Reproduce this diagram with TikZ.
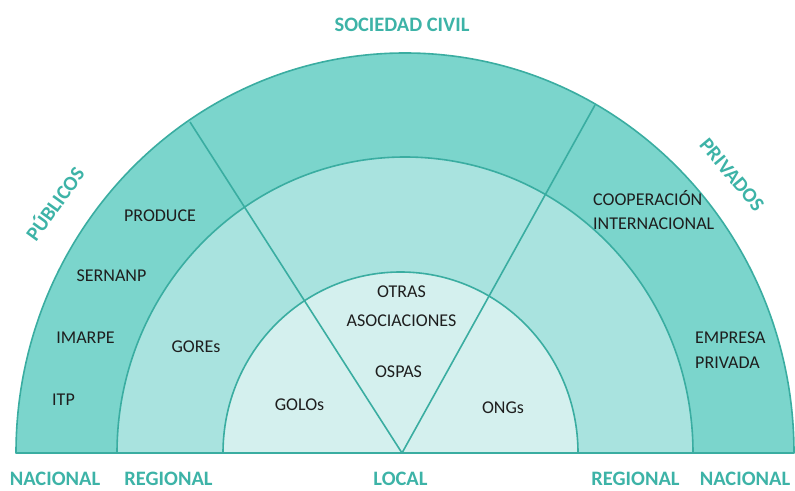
\documentclass[tikz,border=0pt]{standalone}
\usepackage{fontspec}
\setmainfont{Carlito}
\definecolor{ringA}{HTML}{7BD5CC}
\definecolor{ringB}{HTML}{A9E3DF}
\definecolor{ringC}{HTML}{D4F0EE}
\definecolor{edge}{HTML}{3AADA1}
\definecolor{cattxt}{HTML}{3DB3A7}
\definecolor{ink}{HTML}{1E1E1E}
\begin{document}
\begin{tikzpicture}[x=1pt,y=1pt,
  ring/.style={draw=edge, line width=1.6pt, line join=round},
  lbl/.style={font=\fontsize{18}{20}\selectfont, text=ink, inner sep=0pt},
  cat/.style={font=\fontsize{20.5}{22}\selectfont\bfseries, text=cattxt, inner sep=0pt}]
\useasboundingbox (0,0) rectangle (795,490);
% rings
\path[fill=ringA, ring] (16,37) arc[start angle=180,end angle=0,x radius=389,y radius=400] -- cycle;
\path[fill=ringB, ring] (117,37) arc[start angle=180,end angle=0,x radius=288,y radius=296] -- cycle;
\path[fill=ringC, ring] (223,37) arc[start angle=180,end angle=0,x radius=177.5,y radius=181] -- cycle;
% dividers
\coordinate (c) at (402,37);
\coordinate (pl) at (190,368);
\coordinate (pr) at (595,385);
\draw[ring] (c) -- (pl);
\draw[ring] (c) -- (pr);
% category labels
\node[cat, anchor=base] (soc) at (402,458) {SOCIEDAD CIVIL};
\node[cat, rotate=54] (pub) at (54,287) {PÚBLICOS};
\node[cat, rotate=-50] (priv) at (732,315) {PRIVADOS};
\node[cat, anchor=base] (nacl) at (55,4.5) {NACIONAL};
\node[cat, anchor=base] (regl) at (168.5,4.5) {REGIONAL};
\node[cat, anchor=base] (loc) at (400.5,4.5) {LOCAL};
\node[cat, anchor=base] (regr) at (635.5,4.5) {REGIONAL};
\node[cat, anchor=base] (nacr) at (745,4.5) {NACIONAL};
% actor labels
\node[lbl, anchor=base] (produce) at (160,268.3) {PRODUCE};
\node[lbl, anchor=base] (sernanp) at (111.5,208.3) {SERNANP};
\node[lbl, anchor=base] (imarpe) at (85.5,146.7) {IMARPE};
\node[lbl, anchor=base] (itp) at (63.5,84) {ITP};
\node[lbl, anchor=base] (gores) at (196,137.3) {GOREs};
\node[lbl, anchor=base] (golos) at (299.5,79.3) {GOLOs};
\node[lbl, anchor=base] (otras) at (401.5,192.3) {OTRAS};
\node[lbl, anchor=base] (asoc) at (401.5,163.3) {ASOCIACIONES};
\node[lbl, anchor=base] (ospas) at (398.5,112.3) {OSPAS};
\node[lbl, anchor=base] (ongs) at (503,76.7) {ONGs};
\node[lbl, anchor=base west] (coop) at (593,284) {COOPERACIÓN};
\node[lbl, anchor=base west] (inter) at (593,260) {INTERNACIONAL};
\node[lbl, anchor=base west] (empresa) at (695,146.7) {EMPRESA};
\node[lbl, anchor=base west] (privada) at (695,121) {PRIVADA};
\end{tikzpicture}
\end{document}
